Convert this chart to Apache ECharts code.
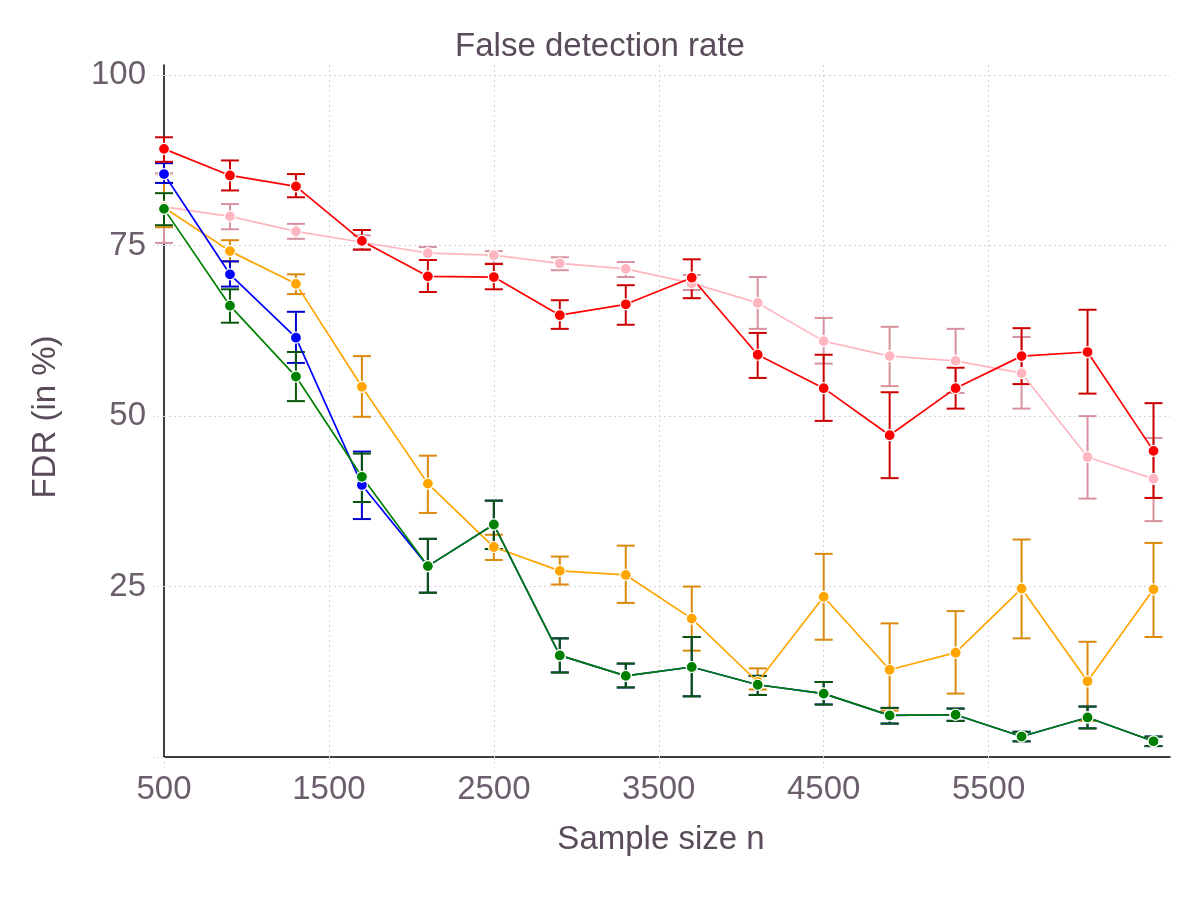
<!DOCTYPE html>
<html>
<head>
<meta charset="utf-8">
<script src="https://cdn.jsdelivr.net/npm/echarts@6/dist/echarts.min.js"></script>
<style>html,body{margin:0;padding:0;background:#fff;}#chart{width:1200px;height:900px;}</style>
</head>
<body>
<div id="chart"></div>
<script>
const sampleSizes = [500, 900, 1300, 1700, 2100, 2500, 2900, 3300, 3700, 4100, 4500, 4900, 5300, 5700, 6100, 6500];
const xTicks = [500, 1500, 2500, 3500, 4500, 5500];
const yTicks = [25, 50, 75, 100];

const redMean = [89.2, 85.3, 83.7, 75.7, 70.5, 70.4, 64.8, 66.4, 70.3, 59.0, 54.1, 47.2, 54.1, 58.8, 59.4, 44.9];
const redHigh = [90.9, 87.5, 85.5, 77.3, 72.9, 72.3, 67.0, 69.2, 73.0, 62.2, 59.0, 53.5, 57.1, 62.9, 65.6, 51.9];
const redLow  = [87.3, 83.1, 82.1, 74.4, 68.2, 68.6, 62.8, 63.4, 67.3, 55.6, 49.3, 40.9, 51.1, 54.7, 53.3, 38.0];

const pinkMean = [80.7, 79.3, 77.1, 75.5, 73.9, 73.6, 72.4, 71.6, 69.5, 66.6, 61.0, 58.8, 58.1, 56.3, 44.0, 40.8];
const pinkHigh = [85.6, 81.1, 78.2, 76.5, 74.8, 74.2, 73.3, 72.6, 70.7, 70.4, 64.4, 63.1, 62.8, 61.6, 50.0, 46.8];
const pinkLow  = [75.4, 77.4, 76.0, 74.5, 72.9, 72.4, 71.4, 70.4, 68.5, 62.8, 57.7, 54.4, 53.4, 51.1, 37.9, 34.6];

const orangeMean = [80.6, 74.2, 69.4, 54.3, 40.1, 30.8, 27.3, 26.7, 20.3, 11.0, 23.5, 12.8, 15.3, 24.7, 11.1, 24.6];
const orangeHigh = [84.2, 75.8, 70.8, 58.8, 44.2, 32.6, 29.4, 31.0, 25.0, 13.0, 29.8, 19.6, 21.4, 31.9, 16.9, 31.4];
const orangeLow  = [77.7, 72.7, 67.9, 49.9, 35.8, 28.9, 25.3, 22.6, 15.6, 9.9, 17.2, 6.8, 9.3, 17.4, 5.3, 17.6];

const blueMean = [85.5, 70.8, 61.5, 39.9, 28.0, 34.1, 14.9, 11.9, 13.2, 10.6, 9.3, 6.1, 6.2, 3.0, 5.8, 2.3];
const blueHigh = [87.1, 72.7, 65.3, 44.8, 32.0, 37.6, 17.4, 13.7, 17.6, 11.9, 11.0, 7.2, 7.1, 3.7, 7.4, 3.0];
const blueLow  = [84.2, 69.0, 57.8, 34.9, 24.1, 30.5, 12.4, 10.2, 8.9, 9.1, 7.7, 4.9, 5.3, 2.3, 4.2, 1.6];

const greenMean = [80.4, 66.2, 55.8, 41.1, 28.0, 34.1, 14.9, 11.9, 13.2, 10.6, 9.3, 6.1, 6.2, 3.0, 5.8, 2.3];
const greenHigh = [82.7, 68.6, 59.4, 44.5, 32.0, 37.6, 17.4, 13.7, 17.6, 11.9, 11.0, 7.2, 7.1, 3.7, 7.4, 3.0];
const greenLow  = [78.0, 63.7, 52.2, 37.4, 24.1, 30.5, 12.4, 10.2, 8.9, 9.1, 7.7, 4.9, 5.3, 2.3, 4.2, 1.6];

const FONT = "'Liberation Sans', Arial, Helvetica, sans-serif";
const TEXT = '#6a5f6b';
const GRID = '#d2d2e0';

function errSeries(name, low, high, color) {
  const data = sampleSizes.map((x, i) => [x, low[i], high[i]]);
  return {
    name: name + ' err', type: 'custom', data: data, silent: true, z: 3,
    encode: { x: 0, y: [1, 2] },
    renderItem: function (params, api) {
      const x = api.value(0);
      const pLo = api.coord([x, api.value(1)]);
      const pHi = api.coord([x, api.value(2)]);
      const w = 9;
      const st = { stroke: color, lineWidth: 2 };
      return {
        type: 'group',
        children: [
          { type: 'line', shape: { x1: pLo[0], y1: pLo[1], x2: pHi[0], y2: pHi[1] }, style: st },
          { type: 'line', shape: { x1: pLo[0] - w, y1: pLo[1], x2: pLo[0] + w, y2: pLo[1] }, style: st },
          { type: 'line', shape: { x1: pHi[0] - w, y1: pHi[1], x2: pHi[0] + w, y2: pHi[1] }, style: st }
        ]
      };
    }
  };
}
function lineSeries(name, mean, color) {
  return {
    name: name, type: 'line', data: sampleSizes.map((x, i) => [x, mean[i]]), z: 3,
    symbol: 'circle', symbolSize: 11,
    itemStyle: { color: color, borderColor: '#ffffff', borderWidth: 1.2 },
    lineStyle: { color: color, width: 1.7 },
    emphasis: { disabled: true }
  };
}

const gridSeries = {
  name: 'grid', type: 'line', data: [], silent: true, z: 1,
  markLine: {
    silent: true, symbol: 'none', label: { show: false }, z: 1,
    lineStyle: { color: GRID, type: [2, 3], width: 1 },
    data: xTicks.filter(v => v > 500).map(v => ({ xAxis: v }))
      .concat(yTicks.map(v => ({ yAxis: v })))
  }
};

const option = {
  backgroundColor: '#ffffff',
  animation: false,
  textStyle: { fontFamily: FONT },
  title: {
    text: 'False detection rate', left: 'center', top: 25,
    textStyle: { fontFamily: FONT, fontSize: 33, fontWeight: 'normal', color: '#574c58' }
  },
  grid: { left: 164, right: 30, top: 65, bottom: 143, containLabel: false },
  xAxis: {
    type: 'value', min: 500, max: 6600, interval: 1000,
    name: 'Sample size n', nameLocation: 'middle', nameGap: 66,
    nameTextStyle: { fontFamily: FONT, fontSize: 33, color: '#574c58', padding: [0, 12, 0, 0] },
    axisLine: { show: true, onZero: false, lineStyle: { color: '#000', width: 1.5 } },
    axisTick: { show: true, length: 11, customValues: xTicks, lineStyle: { color: GRID, type: [2, 3] } },
    axisLabel: { customValues: xTicks, formatter: v => String(v), fontFamily: FONT, fontSize: 33, color: TEXT, margin: 16 },
    splitLine: { show: false }
  },
  yAxis: {
    type: 'value', min: 0, max: 101.5, interval: 25,
    name: 'FDR (in %)', nameLocation: 'middle', nameGap: 102, nameRotate: 90,
    nameTextStyle: { fontFamily: FONT, fontSize: 33, color: '#574c58', padding: [0, 12, 0, 0] },
    axisLine: { show: true, onZero: false, lineStyle: { color: '#000', width: 1.5 } },
    axisTick: { show: true, length: 11, customValues: [0].concat(yTicks), lineStyle: { color: GRID, type: [2, 3] } },
    axisLabel: { customValues: yTicks, formatter: v => String(v), fontFamily: FONT, fontSize: 33, color: TEXT, margin: 18 },
    splitLine: { show: false }
  },
  series: [
    gridSeries,
    errSeries('pink', pinkLow, pinkHigh, '#d8929f'),
    lineSeries('pink', pinkMean, '#ffb6c1'),
    errSeries('orange', orangeLow, orangeHigh, '#d98a0c'),
    lineSeries('orange', orangeMean, '#ffa500'),
    errSeries('blue', blueLow, blueHigh, '#0000cc'),
    lineSeries('blue', blueMean, '#0000ff'),
    errSeries('green', greenLow, greenHigh, '#0a560a'),
    lineSeries('green', greenMean, '#008000'),
    errSeries('red', redLow, redHigh, '#cc0000'),
    lineSeries('red', redMean, '#ff0000')
  ]
};
const chart = echarts.init(document.getElementById('chart'), null, { renderer: 'canvas' });
chart.setOption(option);
</script>
</body>
</html>
